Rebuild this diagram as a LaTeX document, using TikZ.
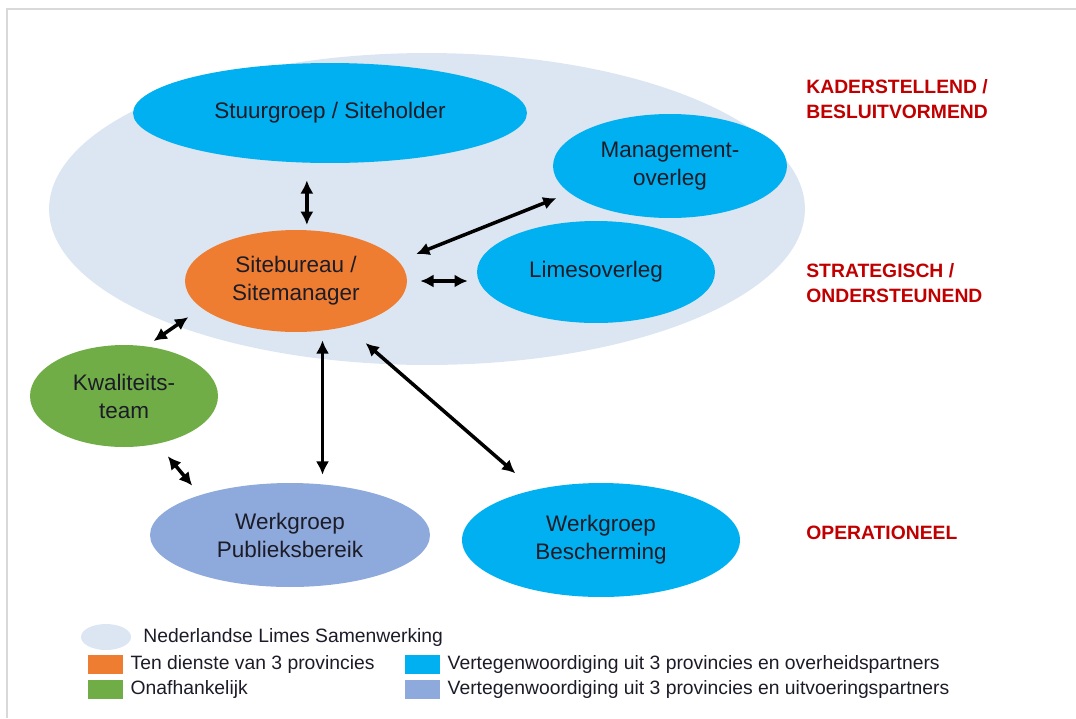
\documentclass[tikz,border=0pt]{standalone}
\usepackage{fontspec}
\setmainfont{Liberation Sans}
\usetikzlibrary{positioning,shapes.geometric,arrows.meta}

\definecolor{nlsblue}{HTML}{DCE6F2}
\definecolor{ovblue}{HTML}{00B0F0}
\definecolor{uitblue}{HTML}{8EA9DB}
\definecolor{provorange}{HTML}{EE7D31}
\definecolor{onafgreen}{HTML}{70AD47}
\definecolor{lvlred}{HTML}{C00000}
\definecolor{txtdark}{HTML}{1C1C28}
\definecolor{framegray}{HTML}{D9D9D9}

\begin{document}
\begin{tikzpicture}[
			x=0.02cm, y=-0.02cm,
			grp/.style  = {ellipse, inner sep=0pt, align=center, text=txtdark, font=\fontsize{12.8}{15.9}\selectfont},
			ov/.style   = {grp, fill=ovblue},
			uit/.style  = {grp, fill=uitblue},
			lvl/.style  = {anchor=west, inner sep=0pt, align=left, text=lvlred, font=\bfseries\fontsize{11}{14.7}\selectfont},
			legbox/.style = {minimum width=0.7cm, minimum height=0.38cm, inner sep=0pt},
			legtxt/.style = {inner sep=0pt, text=txtdark, font=\fontsize{11}{13}\selectfont},
			link/.style = {<->, line width=2pt},
			>={Latex[length=7.5pt, width=7.5pt]}]
			
			\useasboundingbox (0,0) rectangle (1076,718);
			\draw[framegray, line width=1.2pt] (7,718) -- (7,9) -- (1076,9);
			
			% samenwerking
			\node[ellipse, fill=nlsblue, minimum width=15.12cm, minimum height=6.24cm] (nls) at (427,209) {};
			
			\node[ov, minimum width=7.88cm, minimum height=2cm] (stuur) at (330,113) {Stuurgroep / Siteholder};
			\node[ov, minimum width=4.68cm, minimum height=2.08cm] (mgmt) at (670,166) {Management-\\overleg};
			\node[ov, minimum width=4.76cm, minimum height=2.04cm] (limes) at (596,272) {Limesoverleg};
			\node[grp, fill=provorange, minimum width=4.44cm, minimum height=2.04cm] (site) at (296,281) {Sitebureau /\\Sitemanager};
			\node[grp, fill=onafgreen, minimum width=3.76cm, minimum height=2.04cm] (kwal) at (124,396) {Kwaliteits-\\team};
			\node[uit, minimum width=5.6cm, minimum height=2.08cm] (pub) at (290,535) {Werkgroep\\Publieksbereik};
			\node[ov, minimum width=5.56cm, minimum height=2.28cm] (bes) at (601,540) {Werkgroep\\Bescherming};
			
			% niveaus
			\node[lvl] (l1) at (806,99) {KADERSTELLEND /\\BESLUITVORMEND};
			\node[lvl] (l2) at (806,283) {STRATEGISCH /\\ONDERSTEUNEND};
			\node[lvl] (l3) at (806,533) {OPERATIONEEL};
			
			% verbindingen
			\draw[link, shorten <=0.34cm, shorten >=0.1cm] (site.78 |- stuur.south) -- (site.78);
			\draw[link, shorten <=0.38cm, shorten >=0.28cm] (site.11) -- (mgmt.195);
			\draw[link, shorten <=0.26cm, shorten >=0.18cm] (site.east) -- (site.east -| limes.west);
			\draw[link, shorten <=0.18cm, shorten >=0.32cm] (kwal.66) -- (site.196);
			\draw[link, shorten <=0.32cm, shorten >=0.24cm] (kwal.-55) -- (pub.156);
			\draw[link, shorten <=0.19cm, shorten >=0.16cm] (site.-62) -- (site.-62 |- pub.north);
			\draw[link, shorten <=0.5cm, shorten >=0.5cm] (site.-42) -- (bes.143);
			
			% legenda
			\begin{scope}[node distance=0.5cm]
				\node[ellipse, fill=nlsblue, minimum width=1cm, minimum height=0.52cm] (lg0) at (106,637) {};
				\node[legbox, fill=provorange] (lg1) at (105.5,664) {};
				\node[legbox, fill=onafgreen, below of = lg1] (lg2) {};
				\node[legbox, fill=ovblue] (lg3) at (422.5,664) {};
				\node[legbox, fill=uitblue, below of = lg3] (lg4) {};
				
				\node[legtxt, anchor=west] (t0) at (143,637) {Nederlandse Limes Samenwerking};
				\node[legtxt, right=0.14cm of lg1] (t1) {Ten dienste van 3 provincies};
				\node[legtxt, right=0.14cm of lg2] (t2) {Onafhankelijk};
				\node[legtxt, right=0.14cm of lg3] (t3) {Vertegenwoordiging uit 3 provincies en overheidspartners};
				\node[legtxt, right=0.14cm of lg4] (t4) {Vertegenwoordiging uit 3 provincies en uitvoeringspartners};
			\end{scope}
		\end{tikzpicture}
\end{document}
